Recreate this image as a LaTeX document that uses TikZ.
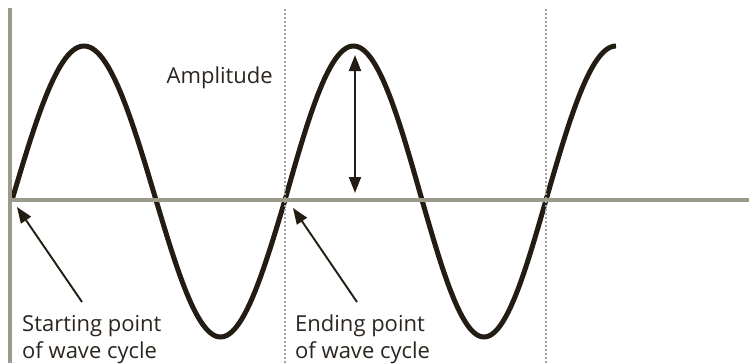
\documentclass[tikz,border=0pt]{standalone}
\usepackage{fontspec}
\setmainfont{Open Sans}
\usetikzlibrary{arrows.meta}
\definecolor{ink}{HTML}{231C12}
\definecolor{txt}{HTML}{2B2520}
\definecolor{axisgray}{HTML}{9C9A8B}
\definecolor{dotgray}{HTML}{A3A3A0}
\tikzset{
  axis/.style={draw=axisgray,line width=4.5bp},
  guide/.style={draw=dotgray,line width=2bp,dash pattern=on 2bp off 2bp},
  wave/.style={draw=ink,line width=5bp,line cap=butt},
  lbl/.style={align=left,inner sep=0pt,font=\fontsize{22bp}{27bp}\selectfont,text=txt},
  ar/.style={-{Triangle[length=16bp,width=12bp]},draw=ink,line width=1.9bp},
  dar/.style={{Triangle[length=16bp,width=12bp]}-{Triangle[length=16bp,width=12bp]},draw=ink,line width=1.9bp},
}
\begin{document}
\begin{tikzpicture}[x=1bp,y=1bp]
  \useasboundingbox (0,0) rectangle (749,363);
  % the wave, half cycle by half cycle
  \draw[wave] plot[domain=12:156,samples=60] (\x,{163+154*sin(1.25*(\x-12))})
    -- plot[domain=156:285,samples=60] (\x,{163-137*sin(1.39535*(\x-156))})
    -- plot[domain=285:422,samples=60] (\x,{163+154*sin(1.31387*(\x-285))})
    -- plot[domain=422:546,samples=60] (\x,{163-137*sin(1.45161*(\x-422))})
    -- plot[domain=546:616,samples=40] (\x,{163+154*sin(1.285714*(\x-546))});
  % axes
  \draw[axis] (10,0) -- (10,355);
  \draw[axis] (8,163) -- (749,163);
  % cycle markers
  \draw[guide] (285,0) -- (285,355);
  \draw[guide] (546,0) -- (546,355);
  % labels
  \node[lbl,anchor=base east] (amp) at (273,280) {Amplitude};
  \node[lbl,anchor=base west] (start) at (22,5) {Starting point\\of wave cycle};
  \node[lbl,anchor=base west] (end) at (295,5) {Ending point\\of wave cycle};
  \coordinate (starttail) at (82,61);
  \coordinate (startpt) at (17,156);
  \coordinate (endtail) at (357,61);
  \coordinate (endpt) at (293,155);
  \coordinate (amptop) at (355,308);
  \coordinate (ampbot) at (355,170);
  \draw[ar] (starttail) -- (startpt);
  \draw[ar] (endtail) -- (endpt);
  \draw[dar] (ampbot) -- (amptop);
\end{tikzpicture}
\end{document}
